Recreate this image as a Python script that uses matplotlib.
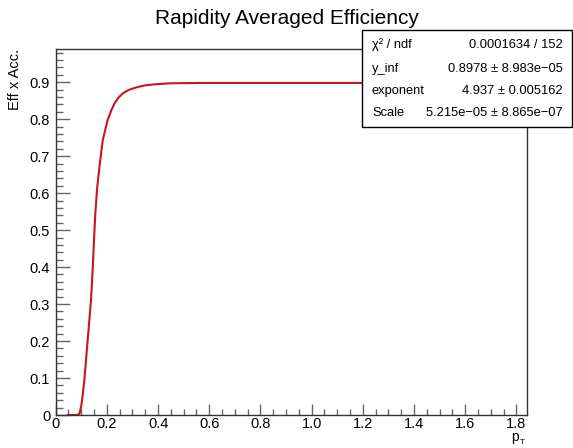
import numpy as np
import matplotlib
matplotlib.use("Agg")
import matplotlib.pyplot as plt
from matplotlib.patches import Rectangle
from matplotlib.ticker import MultipleLocator

plt.rcParams["font.family"] = ["Liberation Sans", "DejaVu Sans"]

# ─── datos ───────────────────────────────────────────────────
pt  = [0.047, 0.085, 0.093, 0.100, 0.106, 0.112, 0.125, 0.138, 0.145, 0.150,
       0.155, 0.162, 0.171, 0.184, 0.203, 0.218, 0.230, 0.245, 0.262, 0.285,
       0.315, 0.345, 0.380, 0.445, 0.560, 0.800, 1.200, 1.840]
eff = [0.0, 0.0, 0.004, 0.025, 0.058, 0.095, 0.203, 0.311, 0.401, 0.478,
       0.548, 0.615, 0.672, 0.744, 0.798, 0.825, 0.843, 0.858, 0.870, 0.879,
       0.886, 0.891, 0.894, 0.897, 0.898, 0.898, 0.898, 0.898]

stat_names  = ["\u03c7\u00b2 / ndf", "y_inf", "exponent", "Scale"]
stat_values = ["0.0001634 / 152",
               "0.8978 \u00b1 8.983e\u221205",
               "4.937 \u00b1 0.005162",
               "5.215e\u221205 \u00b1 8.865e\u221207"]

TITLE  = "Rapidity Averaged Efficiency"
YLABEL = "Eff x Acc."

# ─── figura ──────────────────────────────────────────────────
W, H = 573, 448
fig = plt.figure(figsize=(W / 100, H / 100), dpi=100)
ax = fig.add_axes([55.7 / W, 1 - 415 / H, (526.7 - 55.7) / W, (415 - 49.3) / H])

ax.plot(pt, eff, color="#c8141e", linewidth=1.5, solid_joinstyle="round")
ax.set_xlim(0, 1.84)
ax.set_ylim(0, 0.989)

ax.xaxis.set_minor_locator(MultipleLocator(0.05))
ax.yaxis.set_minor_locator(MultipleLocator(0.02))
ax.set_xticks(np.arange(0, 1.81, 0.2))
ax.set_xticklabels(["0"] + [f"{v:.1f}" for v in np.arange(0.2, 1.81, 0.2)])
ax.set_yticks(np.arange(0, 0.91, 0.1))
ax.set_yticklabels(["0"] + [f"{v:.1f}" for v in np.arange(0.1, 0.91, 0.1)])

ax.tick_params(axis="both", which="both", direction="in", top=False,
               right=False, color="#666666", width=1, labelsize=10.5)
ax.tick_params(axis="x", which="major", length=8, pad=1.5)
ax.tick_params(axis="x", which="minor", length=4)
ax.tick_params(axis="y", which="major", length=10, pad=4)
ax.tick_params(axis="y", which="minor", length=5)
for s in ax.spines.values():
    s.set_linewidth(1)
    s.set_color("#333333")

fig.text(0.5, 1 - 18 / H, TITLE, ha="center", va="center", fontsize=15)
ax.text(-41 / (526.7 - 55.7), 1.0, YLABEL, transform=ax.transAxes,
        rotation=90, ha="center", va="top", fontsize=10.5)
# p_T: "p" y subíndice "T" por separado
fig.text(519 / W, 1 - 441 / H, "p", ha="right", va="baseline", fontsize=10)
fig.text(519.5 / W, 1 - 444 / H, "T", ha="left", va="baseline", fontsize=6)

# ─── caja de estadísticas ────────────────────────────────────
x0, x1, ytop, ybot = 362, 572, 30, 127
fig.patches.append(Rectangle((x0 / W, 1 - ybot / H), (x1 - x0) / W,
                             (ybot - ytop) / H, transform=fig.transFigure,
                             facecolor="white", edgecolor="black",
                             linewidth=1, zorder=5))
rows_y = [45, 69, 91, 113]
for name, val, yy in zip(stat_names, stat_values, rows_y):
    fig.text(372 / W, 1 - yy / H, name, ha="left", va="center",
             fontsize=9.3, zorder=6)
    fig.text(563 / W, 1 - yy / H, val, ha="right", va="center",
             fontsize=9.3, zorder=6)

fig.savefig("out.png", dpi=100)
